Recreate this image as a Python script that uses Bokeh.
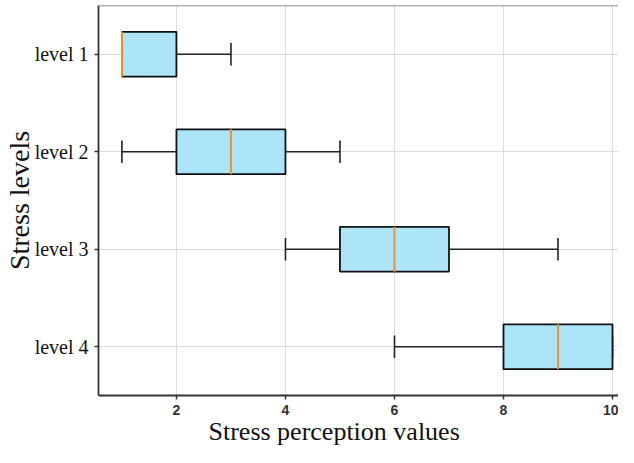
from bokeh.plotting import figure
from bokeh.models import Range1d, FixedTicker, Span, ColumnDataSource, Title
from bokeh.embed import file_html
from bokeh.resources import INLINE

# ---- data ----
levels = ["level 1", "level 2", "level 3", "level 4"]
whisker_low = [1, 1, 4, 6]
q1 = [1, 2, 5, 8]
median = [1, 3, 6, 9]
q3 = [2, 4, 7, 10]
whisker_high = [3, 5, 9, 10]
x_ticks = [2, 4, 6, 8, 10]

pos = list(range(1, len(levels) + 1))
box_h = 0.46
cap_h = box_h / 2

src = ColumnDataSource(dict(
    pos=pos, lo=whisker_low, q1=q1, med=median, q3=q3, hi=whisker_high,
    top=[p_ - box_h / 2 for p_ in pos], bot=[p_ + box_h / 2 for p_ in pos],
    ctop=[p_ - cap_h / 2 for p_ in pos], cbot=[p_ + cap_h / 2 for p_ in pos],
))

SERIF = "Liberation Serif"
SANS = "Liberation Sans"

p = figure(width=618, height=447, output_backend="svg", toolbar_location=None,
           x_range=Range1d(0.57, 10.11), y_range=Range1d(len(levels) + 0.5, 0.5),
           min_border_left=98, min_border_right=0, min_border_top=5, min_border_bottom=52)
p.outline_line_color = None
p.background_fill_color = "white"
p.border_fill_color = "white"

# whiskers
p.segment(x0="lo", y0="pos", x1="q1", y1="pos", source=src, line_color="#222222", line_width=1.6)
p.segment(x0="q3", y0="pos", x1="hi", y1="pos", source=src, line_color="#222222", line_width=1.6)
# caps
p.segment(x0="lo", y0="ctop", x1="lo", y1="cbot", source=src, line_color="#222222", line_width=1.6)
p.segment(x0="hi", y0="ctop", x1="hi", y1="cbot", source=src, line_color="#222222", line_width=1.6)
# boxes
p.hbar(y="pos", left="q1", right="q3", height=box_h, source=src,
       fill_color="#ade5f8", line_color="#111111", line_width=1.8)
# medians
p.segment(x0="med", y0="top", x1="med", y1="bot", source=src, line_color="#f0902e", line_width=2)

# top spine
p.add_layout(Span(location=0.5, dimension="width", line_color="#666666", line_width=1.5))

# axes
p.xaxis.ticker = FixedTicker(ticks=x_ticks)
p.yaxis.ticker = FixedTicker(ticks=pos)
p.yaxis.major_label_overrides = {p_: lab for p_, lab in zip(pos, levels)}
for ax in (p.xaxis[0], p.yaxis[0]):
    ax.axis_line_color = "#333333"
    ax.axis_line_width = 1.8
    ax.major_tick_line_color = "#333333"
    ax.major_tick_line_width = 1.5
    ax.major_tick_out = 4
    ax.major_tick_in = 0
    ax.minor_tick_line_color = None

p.xaxis.major_label_text_font = SANS
p.xaxis.major_label_text_font_size = "14px"
p.xaxis.major_label_text_font_style = "bold"
p.xaxis.major_label_text_color = "#333333"
p.xaxis.major_label_standoff = 5

p.yaxis.major_label_text_font = SERIF
p.yaxis.major_label_text_font_size = "20px"
p.yaxis.major_label_text_color = "#111111"
p.yaxis.major_label_standoff = 6
p.yaxis.axis_label = "Stress levels"
p.yaxis.axis_label_text_font = SERIF
p.yaxis.axis_label_text_font_size = "28px"
p.yaxis.axis_label_text_font_style = "normal"
p.yaxis.axis_label_text_color = "#111111"
p.yaxis.axis_label_standoff = -3

p.add_layout(Title(text="Stress perception values", align="left", offset=110, standoff=-6,
                   text_font=SERIF, text_font_size="26px", text_font_style="normal",
                   text_color="#111111"), "below")

p.xgrid.grid_line_color = "#dddddd"
p.ygrid.grid_line_color = "#dddddd"
p.xgrid.grid_line_width = 1
p.ygrid.grid_line_width = 1

open("out.html", "w").write(file_html(p, INLINE))
